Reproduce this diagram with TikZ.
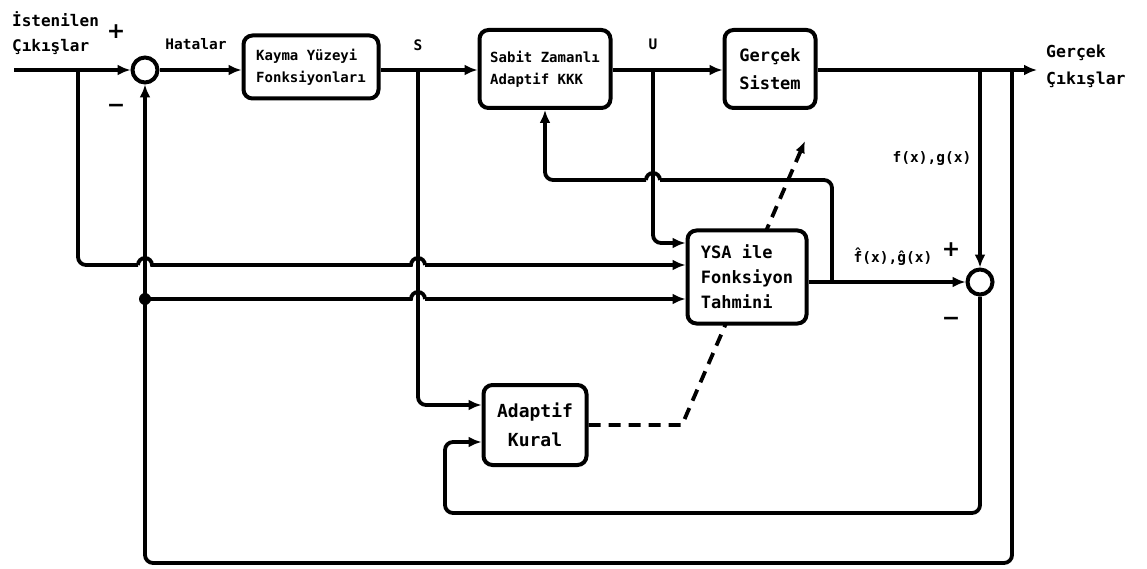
\documentclass[tikz,border=0pt]{standalone}
\usepackage{fontspec}
\setmonofont{DejaVu Sans Mono}
\setsansfont{DejaVu Sans}
\usetikzlibrary{arrows.meta}
\begin{document}
\begin{tikzpicture}[x=1pt,y=-1pt,
  wire/.style={line width=3.8pt},
  flow/.style={wire,-{Latex[length=13pt,width=11pt]}},
  blk/.style={draw,line width=4pt,rounded corners=9pt,fill=white,inner sep=0pt,
    font=\ttfamily\bfseries\fontsize{14}{22}\selectfont},
  sum/.style={draw,circle,line width=4pt,minimum size=25pt,inner sep=0pt,fill=white},
  lbl/.style={font=\ttfamily\bfseries\fontsize{14.5}{24}\selectfont,inner sep=0pt},
  sign/.style={font=\sffamily\bfseries\fontsize{22}{22}\selectfont,inner sep=0pt},
  hop/.style={wire},
]
\useasboundingbox[fill=white] (0,0) rectangle (1147,569);

% blocks
\node[blk,minimum width=135pt,minimum height=63pt,align=left] (kayma) at (311,67)
  {Kayma Yüzeyi\\Fonksiyonları};
\node[blk,minimum width=131pt,minimum height=78pt,align=left] (sabit) at (545,69)
  {Sabit Zamanlı\\Adaptif KKK};
\node[blk,minimum width=91pt,minimum height=78pt,align=left,
  font=\ttfamily\bfseries\fontsize{17}{28}\selectfont] (gercek) at (770,69)
  {Gerçek\\Sistem};
\node[blk,minimum width=103pt,minimum height=80pt,align=center,
  font=\ttfamily\bfseries\fontsize{18}{29}\selectfont] (adaptif) at (535,425)
  {Adaptif\\Kural};

% adaptation signal (dashed), passing behind the estimator block
\coordinate (dk) at (682,425);
\coordinate (dt) at (805,141);
\draw[wire,dash pattern=on 12pt off 8pt,-{Latex[length=12pt,width=10pt]}]
  (adaptif.east) -- (dk) -- (dt);

\node[blk,minimum width=119pt,minimum height=93pt,align=left,
  font=\ttfamily\bfseries\fontsize{17}{25}\selectfont] (ysa) at (747,277)
  {YSA ile\\Fonksiyon\\Tahmini};

% summing junctions
\node[sum] (sum1) at (145,70) {};
\node[sum] (sum2) at (980,282) {};

% junction and crossing points
\coordinate (in)  at (14,70);
\coordinate (jin) at (78,70);
\coordinate (js)  at (418,70);
\coordinate (ju)  at (653,70);
\coordinate (jo1) at (980,70);
\coordinate (jo2) at (1012,70);
\coordinate (out) at (1037,70);
\coordinate (jy)  at (832,282);
\coordinate (dot) at (145,299);
\coordinate (c1)  at (145,265);
\coordinate (c2)  at (418,265);
\coordinate (c3)  at (418,299);
\coordinate (c4)  at (653,180);
\coordinate (bot) at (0,563);
\coordinate (bot2) at (0,513);
\coordinate (ak)  at (445,0);
\coordinate (yin0) at ([yshift=34pt]ysa.west);
\coordinate (yin1) at ([yshift=12pt]ysa.west);
\coordinate (yin2) at ([yshift=-22pt]ysa.west);
\coordinate (sin) at ([yshift=20pt]adaptif.west);
\coordinate (ain) at ([yshift=-17pt]adaptif.west);

% forward path
\draw[flow] (in) -- (sum1.west);
\draw[flow] (sum1.east) -- (sum1.east -| kayma.west);
\draw[flow] (js -| kayma.east) -- (js -| sabit.west);
\draw[flow] (ju -| sabit.east) -- (ju -| gercek.west);
\draw[flow] (jo1 -| gercek.east) -- (out);

% desired outputs into the estimator
\draw[wire,rounded corners=8pt] (jin) -- (jin |- c1) -- ([xshift=-7pt]c1);
\draw[hop] ([xshift=-7pt]c1) arc[start angle=180,end angle=0,radius=7pt]
  -- ([xshift=-7pt]c2) arc[start angle=180,end angle=0,radius=7pt];
\draw[flow] ([xshift=7pt]c2) -- (yin1);

% measured outputs into the estimator
\draw[wire] (dot) -- ([xshift=-7pt]c3) arc[start angle=180,end angle=0,radius=7pt];
\draw[flow] ([xshift=7pt]c3) -- (yin2);
\fill (dot) circle (6pt);

% sliding surface into the adaptive law
\draw[flow,rounded corners=8pt] (js) -- (js |- sin) -- (sin);

% control input into the estimator
\draw[flow,rounded corners=8pt] (ju) -- (ju |- yin0) -- (yin0);

% estimates to the second junction and back to the controller
\draw[flow] (ysa.east |- jy) -- (sum2.west);
\draw[wire,rounded corners=8pt] (jy) -- (jy |- c4) -- ([xshift=7pt]c4);
\draw[hop] ([xshift=7pt]c4) arc[start angle=0,end angle=180,radius=7pt];
\draw[flow,rounded corners=8pt] ([xshift=-7pt]c4) -- (sabit.south |- c4) -- (sabit.south);

% true functions into the second junction, error into the adaptive law
\draw[flow] (jo1) -- (sum2.north);
\draw[flow,rounded corners=8pt] (sum2.south) -- (sum2 |- bot2) -- (ak |- bot2)
  -- (ak |- ain) -- (ain);

% output feedback
\draw[flow,rounded corners=8pt] (jo2) -- (jo2 |- bot) -- (sum1 |- bot) -- (sum1.south);

% labels
\node[lbl,anchor=north west,align=left,font=\ttfamily\bfseries\fontsize{16}{25}\selectfont]
  (lin) at (12,11) {İstenilen\\Çıkışlar};
\node[lbl,anchor=north west,align=left,font=\ttfamily\bfseries\fontsize{16.5}{27}\selectfont]
  (lout) at (1046,45) {Gerçek\\Çıkışlar};
\node[lbl] (lhat) at (196,44) {Hatalar};
\node[lbl] (ls) at (418,45) {S};
\node[lbl] (lu) at (653,44) {U};
\node[lbl] (lfg) at (932,158) {f(x),g(x)};
\node[lbl,font=\ttfamily\bfseries\fontsize{14.5}{20}\selectfont] (lfgh) at (893,257)
  {\^f(x),\^g(x)};
\node[sign] (p1) at (116,32) {+};
\node[sign] (m1) at (116,108) {−};
\node[sign] (p2) at (951,250) {+};
\node[sign] (m2) at (951,321) {−};
\end{tikzpicture}
\end{document}
